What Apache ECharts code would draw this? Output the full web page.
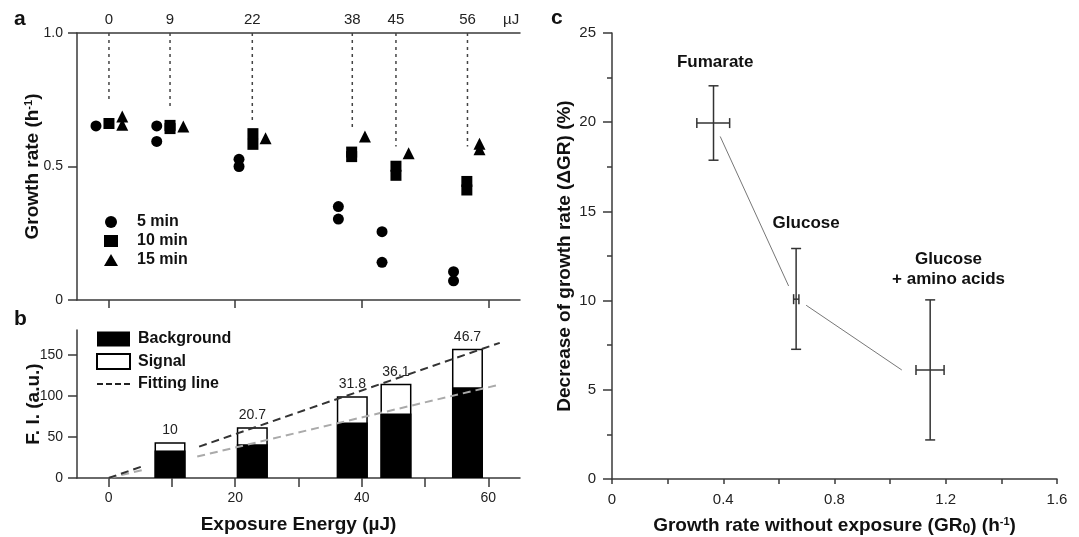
<!DOCTYPE html>
<html><head><meta charset="utf-8">
<script src="https://cdn.jsdelivr.net/npm/echarts@6/dist/echarts.min.js"></script>
<style>html,body{margin:0;padding:0;background:#fff}#c{width:1079px;height:537px}</style>
</head><body><div id="c"></div>
<script>
// ---------- Data ----------
// Panel a: growth rate vs exposure energy
const energyLabels = ['0', '9', '22', '38', '45', '56'];
const energyPos = [0.05, 9.7, 22.7, 38.5, 45.4, 56.7];
const dropEnds = [0.74, 0.72, 0.668, 0.637, 0.575, 0.575];
const gr5min = [[-2.0,0.652],[7.6,0.652],[7.6,0.594],[20.6,0.527],[20.6,0.50],[36.3,0.350],[36.3,0.303],[43.2,0.256],[43.2,0.141],[54.5,0.106],[54.5,0.072]];
const gr10min = [[0.05,0.661],[9.7,0.654],[9.7,0.642],[22.8,0.623],[22.8,0.583],[38.4,0.554],[38.4,0.537],[45.4,0.501],[45.4,0.467],[56.6,0.444],[56.6,0.412]];
const gr15min = [[2.15,0.687],[2.15,0.656],[11.8,0.650],[24.8,0.606],[40.5,0.612],[47.4,0.550],[58.6,0.585],[58.6,0.565]];
const aYTicks = [0, 0.5, 1];
const aXTicks = [0, 20, 40, 60];

// Panel b: fluorescence intensity
const background = [33.5, 41, 67.5, 78.5, 110.5];
const signal = [10, 20.7, 31.8, 36.1, 46.7];
const fitDarkA = [[0,0],[5.5,14.6]];
const fitDarkB = [[14.3,38.2],[61.8,164.4]];
const fitGrayA = [[0,0],[5.5,10.0]];
const fitGrayB = [[14.0,26.1],[61.8,113.6]];
const bXTicks = [0, 10, 20, 30, 40, 50, 60];
const bXLabels = [0, 20, 40, 60];
const bYTicks = [0, 50, 100, 150];

// Panel c: ΔGR vs GR0
const conditions = ['Fumarate', 'Glucose', 'Glucose\n+ amino acids'];
const gr0 = [0.365, 0.662, 1.144];
const gr0Err = [[0.305,0.423],[0.653,0.672],[1.093,1.194]];
const dGR = [19.95, 10.08, 6.11];
const dGRErr = [[17.87,22.04],[7.27,12.92],[2.19,10.04]];
const connector1 = [[0.389,19.2],[0.635,10.82]];
const connector2 = [[0.698,9.74],[1.042,6.11]];
const labelPos = [[0.371,23.35],[0.698,14.34],[1.210,11.76]];

// ---------- Chart ----------
const font = "'Liberation Sans', Arial, Helvetica, sans-serif";
const axColor = '#3a3a3a';
const topLabelPos = energyPos.concat([63.6]);
const topLabelText = energyLabels.concat(['µJ']);
const dashIcon = 'path://M0,0h6v2h-6z M9,0h6v2h-6z M18,0h6v2h-6z M27,0h6v2h-6z';

function axLine(){ return {show:true, onZero:false, lineStyle:{color: axColor, width: 1.5}}; }
function ticks(vals, len){ const t = {show:true, inside:false, length: len || 9, lineStyle:{color: axColor, width:1.5}}; if (vals) t.customValues = vals; return t; }
function labels(vals, fmt, size, margin){ const l = {show:true, formatter: fmt, color:'#222', fontSize: size, fontFamily: font, margin: margin}; if (vals) l.customValues = vals; return l; }
const nameStyle = {fontSize: 19, fontWeight:'bold', fontFamily: font, color:'#111',
  rich:{sup:{fontSize:11, fontWeight:'bold', fontFamily:font, color:'#111', verticalAlign:'top', padding:[0,0,9,0]},
        sub:{fontSize:14, fontWeight:'bold', fontFamily:font, color:'#111', verticalAlign:'bottom'}}};
const dec1 = v => v === 0 ? '0' : v.toFixed(1);

function renderErr(params, api){
  const x = api.value(0), y = api.value(1);
  const L = api.coord([api.value(2), y]), R = api.coord([api.value(3), y]);
  const B = api.coord([x, api.value(4)]), T = api.coord([x, api.value(5)]);
  const h = 5, st = {stroke:'#333', lineWidth:1.5};
  const ln = (x1,y1,x2,y2) => ({type:'line', shape:{x1,y1,x2,y2}, style: st});
  return {type:'group', children:[
    ln(L[0],L[1],R[0],R[1]), ln(L[0],L[1]-h,L[0],L[1]+h), ln(R[0],R[1]-h,R[0],R[1]+h),
    ln(B[0],B[1],T[0],T[1]), ln(B[0]-h,B[1],B[0]+h,B[1]), ln(T[0]-h,T[1],T[0]+h,T[1])
  ]};
}

const series = [
  {name:'5 min', type:'scatter', xAxisIndex:0, yAxisIndex:0, symbol:'circle', symbolSize:11, itemStyle:{color:'#000', opacity:1}, data: gr5min},
  {name:'10 min', type:'scatter', xAxisIndex:0, yAxisIndex:0, symbol:'rect', symbolSize:11, itemStyle:{color:'#000', opacity:1}, data: gr10min},
  {name:'15 min', type:'scatter', xAxisIndex:0, yAxisIndex:0, symbol:'triangle', symbolSize:12, itemStyle:{color:'#000', opacity:1}, data: gr15min}
];
energyPos.forEach((p, i) => {
  series.push({name:'drop'+i, type:'line', xAxisIndex:0, yAxisIndex:0, symbol:'none', silent:true,
    lineStyle:{color:'#444', width:1.5, type:[3,4]}, data:[[p,1],[p,dropEnds[i]]]});
});
const barX = energyPos.slice(1);
series.push(
  {name:'Signal', type:'bar', xAxisIndex:2, yAxisIndex:1, barWidth:31, barGap:'-100%',
   itemStyle:{color:'#fff', borderColor:'#000', borderWidth:1.5},
   label:{show:true, position:'top', distance:5, color:'#222', fontSize:14, fontFamily:font,
     formatter: p => String(signal[p.dataIndex])},
   data: barX.map((x,i) => [x, background[i] + signal[i]])},
  {name:'Background', type:'bar', xAxisIndex:2, yAxisIndex:1, barWidth:31, barGap:'-100%',
   itemStyle:{color:'#000'}, data: barX.map((x,i) => [x, background[i]])},
  {name:'Fitting line gray', type:'line', xAxisIndex:2, yAxisIndex:1, symbol:'none', z:5,
   lineStyle:{color:'#aaa', width:2, type:[8,5]}, data: fitGrayA},
  {name:'Fitting line gray', type:'line', xAxisIndex:2, yAxisIndex:1, symbol:'none', z:5,
   lineStyle:{color:'#aaa', width:2, type:[8,5]}, data: fitGrayB},
  {name:'Fitting line', type:'line', xAxisIndex:2, yAxisIndex:1, symbol:'none', z:5,
   itemStyle:{color:'#222'}, lineStyle:{color:'#333', width:2, type:[8,5]}, data: fitDarkA},
  {name:'Fitting line', type:'line', xAxisIndex:2, yAxisIndex:1, symbol:'none', z:5,
   itemStyle:{color:'#222'}, lineStyle:{color:'#333', width:2, type:[8,5]}, data: fitDarkB},
  {name:'conn1', type:'line', xAxisIndex:3, yAxisIndex:2, symbol:'none', silent:true,
   lineStyle:{color:'#777', width:1}, data: connector1},
  {name:'conn2', type:'line', xAxisIndex:3, yAxisIndex:2, symbol:'none', silent:true,
   lineStyle:{color:'#777', width:1}, data: connector2},
  {name:'errors', type:'custom', xAxisIndex:3, yAxisIndex:2, renderItem: renderErr,
   encode:{x:0, y:1},
   data: gr0.map((x,i) => [x, dGR[i], gr0Err[i][0], gr0Err[i][1], dGRErr[i][0], dGRErr[i][1]])},
  {name:'labels', type:'scatter', xAxisIndex:3, yAxisIndex:2, symbolSize:0, silent:true, itemStyle:{opacity:1},
   label:{show:true, position:'inside', align:'center', color:'#111', fontSize:17, fontWeight:'bold', fontFamily:font, lineHeight:20,
     formatter: p => conditions[p.dataIndex]},
   data: labelPos}
);

const option = {
  animation:false,
  backgroundColor:'#fff',
  title:[
    {text:'a', left:14, top:9, padding:0, textStyle:{fontSize:21, fontWeight:'bold', fontFamily:font, color:'#111'}},
    {text:'b', left:14, top:309, padding:0, textStyle:{fontSize:21, fontWeight:'bold', fontFamily:font, color:'#111'}},
    {text:'c', left:551, top:8, padding:0, textStyle:{fontSize:21, fontWeight:'bold', fontFamily:font, color:'#111'}}
  ],
  legend:[
    {data:['5 min','10 min','15 min'], orient:'vertical', left:104, top:214, padding:0, itemWidth:14, itemHeight:12, itemGap:3,
     selectedMode:false, itemStyle:{opacity:1}, textStyle:{fontSize:16, fontWeight:'bold', fontFamily:font, color:'#111', lineHeight:12, padding:[0,0,0,14]}},
    {data:[{name:'Background', icon:'rect'},{name:'Signal', icon:'rect'},{name:'Fitting line', icon: dashIcon}],
     orient:'vertical', left:96, top:331, padding:0, itemWidth:33, itemHeight:15, itemGap:6,
     selectedMode:false, textStyle:{fontSize:16, fontWeight:'bold', fontFamily:font, color:'#111', lineHeight:15, padding:[0,0,0,3]}}
  ],
  grid:[
    {left:77, top:33, width:443, height:267, outerBoundsMode:'none', containLabel:false},
    {left:77, top:330, width:443, height:148, outerBoundsMode:'none', containLabel:false},
    {left:612, top:33, width:445, height:446, outerBoundsMode:'none', containLabel:false}
  ],
  xAxis:[
    {type:'value', gridIndex:0, position:'bottom', min:-5, max:65, axisLine:axLine(), axisTick:ticks(aXTicks, 8),
     axisLabel:{show:false}, splitLine:{show:false}},
    {type:'value', gridIndex:0, position:'top', min:-5, max:65, axisLine:axLine(), axisTick:{show:false},
     axisLabel:labels(topLabelPos, v => topLabelText[topLabelPos.indexOf(v)], 15, 6), splitLine:{show:false}},
    {type:'value', gridIndex:1, position:'bottom', min:-5, max:65, axisLine:axLine(), axisTick:ticks(bXTicks, 9),
     axisLabel:labels(bXLabels, v => String(v), 14, 13), splitLine:{show:false},
     name:'Exposure Energy (µJ)', nameLocation:'middle', nameGap:37, nameMoveOverlap:false, nameTextStyle:nameStyle},
    {type:'value', gridIndex:2, position:'bottom', min:0, max:1.6, interval:0.4, axisLine:axLine(), axisTick:ticks(null, 5),
     minorTick:{show:true, splitNumber:2, length:5, lineStyle:{color: axColor, width:1.5}},
     axisLabel:labels(null, dec1, 15, 13), splitLine:{show:false}, minorSplitLine:{show:false},
     name:'Growth rate without exposure (GR{sub|0}) (h{sup|-1})', nameLocation:'middle', nameGap:37, nameMoveOverlap:false, nameTextStyle:nameStyle}
  ],
  yAxis:[
    {type:'value', gridIndex:0, position:'left', min:0, max:1, axisLine:axLine(), axisTick:ticks(aYTicks, 9),
     axisLabel:labels(aYTicks, dec1, 14, 14), splitLine:{show:false},
     name:'Growth rate (h{sup|-1})', nameLocation:'middle', nameGap:34, nameMoveOverlap:false, nameTextStyle:nameStyle},
    {type:'value', gridIndex:1, position:'left', min:0, max:180, axisLine:axLine(), axisTick:ticks(bYTicks, 9),
     axisLabel:labels(bYTicks, v => String(v), 14, 14), splitLine:{show:false},
     name:'F. I. (a.u.)', nameLocation:'middle', nameGap:34, nameMoveOverlap:false, nameTextStyle:nameStyle},
    {type:'value', gridIndex:2, position:'left', min:0, max:25, interval:5, axisLine:axLine(), axisTick:ticks(null, 9),
     minorTick:{show:true, splitNumber:2, length:5, lineStyle:{color: axColor, width:1.5}},
     axisLabel:labels(null, v => String(v), 15, 16), splitLine:{show:false}, minorSplitLine:{show:false},
     name:'Decrease of growth rate (ΔGR) (%)', nameLocation:'middle', nameGap:38, nameMoveOverlap:false, nameTextStyle:nameStyle}
  ],
  series: series
};
const chart = echarts.init(document.getElementById('c'), null, {renderer:'canvas'});
chart.setOption(option);
</script></body></html>
